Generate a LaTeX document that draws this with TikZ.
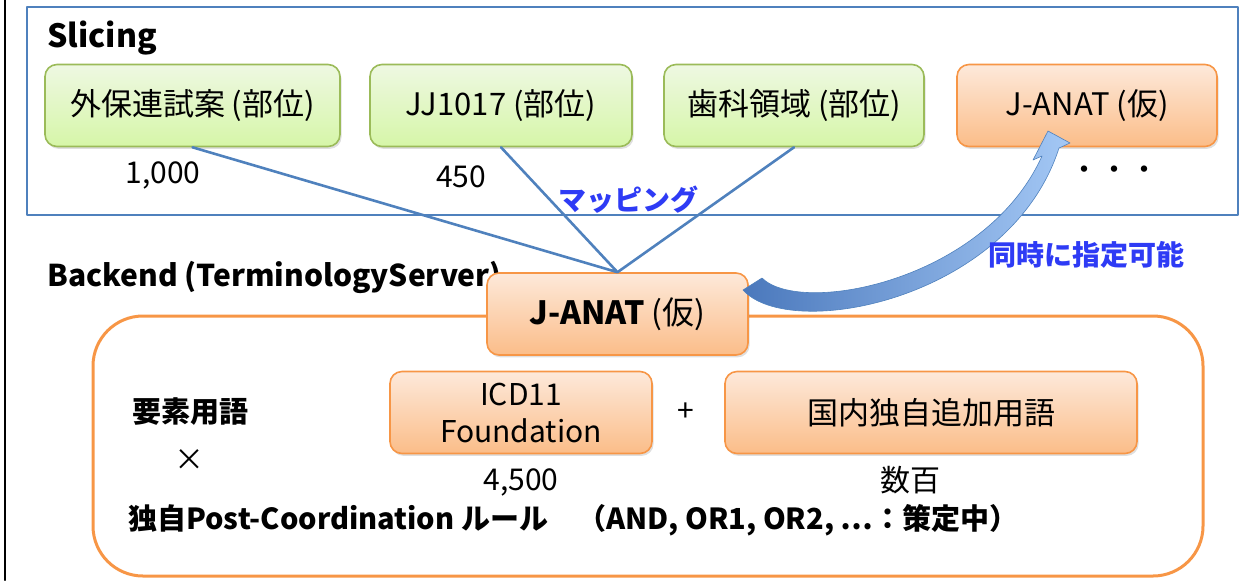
\documentclass[tikz,border=0pt]{standalone}
\usepackage{fontspec}
\setmainfont{Noto Sans CJK JP}
\usetikzlibrary{shadows}
\definecolor{slblue}{HTML}{4F81BD}
\definecolor{grtop}{HTML}{EEF8E2}
\definecolor{grbot}{HTML}{D6F6A8}
\definecolor{grline}{HTML}{9BBB59}
\definecolor{ortop}{HTML}{FDE9DA}
\definecolor{orbot}{HTML}{FBBD89}
\definecolor{orline}{HTML}{F79646}
\definecolor{txtblue}{HTML}{2E3BF5}
\definecolor{arrdark}{HTML}{4A78BC}
\definecolor{arrlight}{HTML}{A4C8F5}
\begin{document}
\begin{tikzpicture}[x=0.5pt, y=-0.5pt, line join=round, line cap=round,
	gbox/.style={draw=grline, line width=0.8pt, rounded corners=6pt, top color=grtop, bottom color=grbot,
		drop shadow={opacity=.25, shadow xshift=.8pt, shadow yshift=-1.2pt}, minimum height=41pt,
		font=\fontsize{15.5}{18}\selectfont},
	obox/.style={gbox, draw=orline, top color=ortop, bottom color=orbot},
	lbl/.style={inner sep=0pt, font=\fontsize{15}{18}\selectfont},
	blu/.style={inner sep=0pt, text=txtblue, font=\bfseries\fontsize{14}{17}\selectfont}]
			\useasboundingbox (0,0) rectangle (1242,580);
			\draw[line width=1pt] (5,0) -- (5,580);
			% Slicing
			\draw[slblue, line width=0.9pt] (27,7) rectangle (1238,215);
			\node[lbl, anchor=west, font=\bfseries\fontsize{16}{19}\selectfont] (slc) at (47,38) {Slicing};
			\node[gbox, minimum width=147.5pt] (g1) at (192.5,105.5) {外保連試案 (部位)};
			\node[gbox, minimum width=131pt] (g2) at (501,105.5) {JJ1017 (部位)};
			\node[gbox, minimum width=130pt] (g3) at (794,105.5) {歯科領域 (部位)};
			\node[obox, minimum width=130pt] (g4) at (1087,105.5) {J-ANAT (仮)};
			\node[lbl] (n1) at (163,175) {1,000};
			\node[lbl] (n2) at (461,177) {450};
			\node[lbl] (dots) at (1114,173) {・・・};
			% Backend
			\draw[orline, line width=1.5pt, rounded corners=25pt] (93,316) rectangle (1203,576);
			\node[lbl, anchor=west, font=\bfseries\fontsize{15}{18}\selectfont] (bk) at (47,277) {Backend (TerminologyServer)};
			\node[obox, minimum width=130.5pt, font=\fontsize{16}{19}\selectfont] (ja) at (617.5,314) {\textbf{J-ANAT} (仮)};
			\draw[slblue, line width=1.3pt] (g1.south) -- (ja.north) (g2.south) -- (ja.north) (g3.south) -- (ja.north);
			\node[blu] (map) at (628,200) {マッピング};
			\node[obox, minimum width=131pt, align=center, font=\fontsize{15}{18.5}\selectfont] (icd) at (521,412.5) {ICD11\\Foundation};
			\node[obox, minimum width=206pt] (kn) at (931,412.5) {国内独自追加用語};
			\node[lbl] (plus) at (686,412) {+};
			\node[lbl, font=\bfseries\fontsize{14.5}{17}\selectfont] (ys) at (190,412) {要素用語};
			\node[lbl] (x) at (189,460) {×};
			\node[lbl] (n3) at (521,482) {4,500};
			\node[lbl] (n4) at (910,480) {数百};
			\node[lbl, anchor=west, font=\bfseries\fontsize{14.5}{17}\selectfont] (rule) at (128,520) {独自Post-Coordination ルール　（AND, OR1, OR2, ⋯：策定中）};
			% curved arrow
			\shade[left color=arrdark, right color=arrlight, draw=slblue, line width=0.3pt]
				(743,290) .. controls (790,342) and (1010,300) .. (1059,148) -- (1070,143) -- (1048,131)
				-- (1033,160) -- (1042,156) .. controls (985,282) and (800,316) .. (762,278) -- cycle;
			\node[blu] (sim) at (1086,255) {同時に指定可能};
\end{tikzpicture}
\end{document}
